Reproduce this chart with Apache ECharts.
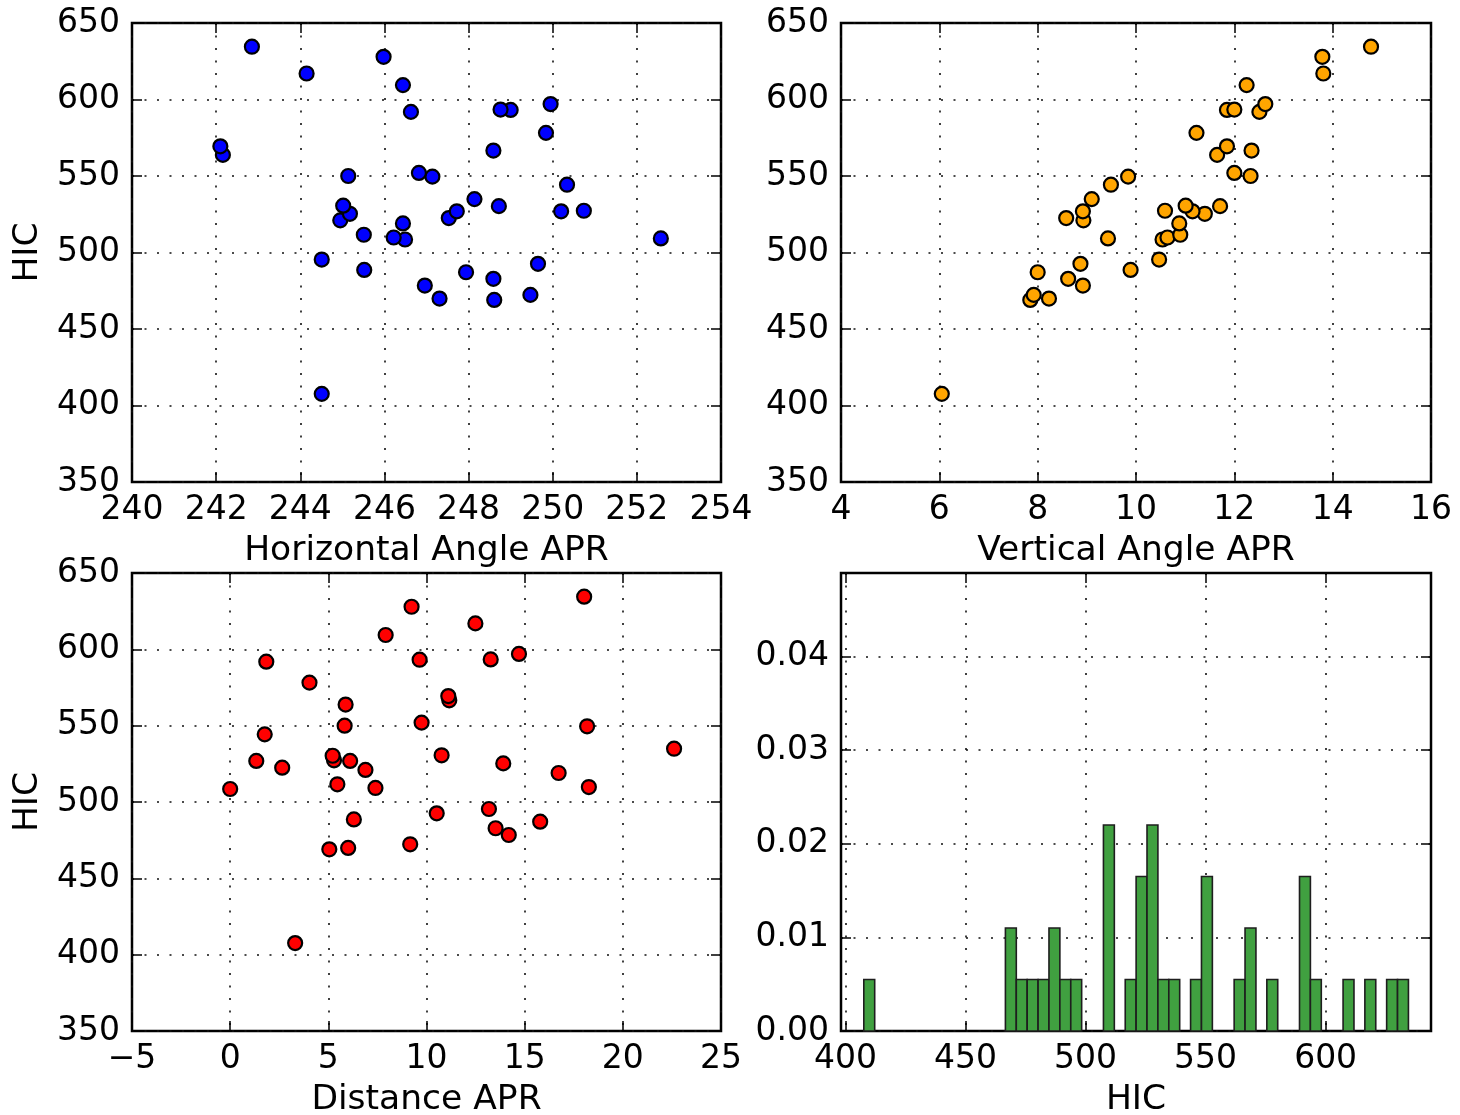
<!DOCTYPE html>
<html><head><meta charset="utf-8">
<script src="https://cdn.jsdelivr.net/npm/echarts@6/dist/echarts.min.js"></script>
<style>html,body{margin:0;padding:0;background:#fff}#c{width:1460px;height:1115px}</style>
</head><body><div id="c"></div>
<script>
// HIC values (sorted), with paired predictors
const hic = [407.6, 469.0, 469.9, 472.3, 478.4, 482.8, 487.1, 488.6, 492.6, 495.4,
  508.5, 509.2, 509.8, 511.6, 519.0, 521.0, 522.5, 525.3, 526.9, 526.9,
  527.3, 530.3, 530.6, 534.9, 544.3, 549.6, 550.0, 552.0, 563.8, 566.6,
  569.4, 578.2, 591.9, 593.2, 593.4, 597.0, 609.4, 617.0, 627.9, 634.5];
const hAngle = [244.51, 248.61, 247.31, 249.47, 246.96, 248.59, 247.94, 245.52, 249.65, 244.51,
  246.49, 252.57, 246.22, 245.51, 246.44, 244.95, 247.53, 245.18, 247.72, 250.20,
  250.74, 248.72, 245.02, 248.14, 250.34, 247.14, 245.14, 246.82, 242.16, 248.59,
  242.10, 249.84, 246.63, 249.00, 248.76, 249.95, 246.44, 244.15, 245.98, 242.85];
const vAngle = [6.05, 7.85, 8.23, 7.92, 8.92, 8.62, 8.00, 9.89, 8.87, 10.47,
  10.54, 9.43, 10.64, 10.90, 10.88, 8.93, 8.58, 11.40, 8.92, 11.15,
  10.59, 11.71, 11.01, 9.10, 9.49, 9.84, 12.33, 12.00, 11.65, 12.35,
  11.85, 11.23, 12.51, 11.85, 12.00, 12.63, 12.25, 13.81, 13.79, 14.78];
const distance = [3.31, 5.05, 6.01, 9.17, 14.19, 13.52, 15.79, 6.30, 10.52, 13.18,
  0.00, 7.40, 18.27, 5.46, 16.73, 6.89, 2.65, 13.91, 1.33, 6.11,
  5.29, 5.22, 10.77, 22.61, 1.76, 18.18, 5.83, 9.75, 5.88, 11.16,
  11.11, 4.04, 1.84, 9.65, 13.27, 14.71, 7.92, 12.49, 9.24, 18.03];

// Histogram of HIC (normed), 50 bins over data range
const histRange = [407.6, 634.5];
const histBins = 50;
const histDensity = [0.0055, 0, 0, 0, 0, 0, 0, 0, 0, 0,
  0, 0, 0, 0.011, 0.0055, 0.0055, 0.0055, 0.011, 0.0055, 0.0055,
  0, 0, 0.022, 0, 0.0055, 0.0165, 0.022, 0.0055, 0.0055, 0,
  0.0055, 0.0165, 0, 0, 0.0055, 0.011, 0, 0.0055, 0, 0,
  0.0165, 0.0055, 0, 0, 0.0055, 0, 0.0055, 0, 0.0055, 0.0055];

// tick labels
const histXTicks = [400, 450, 500, 550, 600];
const histYTicks = [0, 0.01, 0.02, 0.03, 0.04];

const FONT = 'DejaVu Sans';
const grids = [
  {left: 132, top: 23, width: 589, height: 459},
  {left: 841, top: 23, width: 590, height: 459},
  {left: 132, top: 573, width: 589, height: 458},
  {left: 841, top: 573, width: 590, height: 458}
].map(g => Object.assign(g, {show: true, containLabel: false, outerBoundsMode: 'none',
  borderColor: '#000', borderWidth: 2.5, backgroundColor: 'rgba(0,0,0,0)'}));

const tickStyle = () => ({show: true, inside: true, length: 10, lineStyle: {color: '#000', width: 1.5}});
const gridLine = {show: true, lineStyle: {color: '#111', width: 1.6, type: [2, 10.5]}};
const labelStyle = (fmt) => ({show: true, fontFamily: FONT, fontSize: 33, color: '#000', margin: 12, formatter: fmt, showMinLabel: true, showMaxLabel: true});
const nameStyle = {fontFamily: FONT, fontSize: 34.5, color: '#000'};
const minusFmt = v => (v < 0 ? '\u2212' + Math.abs(v) : String(v));

function mainAxis(dim, g, min, max, interval, name, fmt, custom) {
  const ax = {type: 'value', gridIndex: g, min, max, position: dim === 'x' ? 'bottom' : 'left',
    axisLine: {show: false, onZero: false}, axisTick: tickStyle(), splitLine: gridLine, axisLabel: labelStyle(fmt)};
  if (name) {
    ax.name = name; ax.nameLocation = 'middle'; ax.nameGap = dim === 'x' ? 52 : 86; ax.nameTextStyle = nameStyle;
  }
  if (custom) { ax.axisTick.customValues = custom; ax.axisLabel.customValues = custom; }
  else ax.interval = interval;
  return ax;
}
function sideAxis(dim, g, min, max, interval, custom) {
  const ax = {type: 'value', gridIndex: g, min, max, position: dim === 'x' ? 'top' : 'right',
    axisLine: {show: false, onZero: false}, axisTick: tickStyle(), splitLine: {show: false}, axisLabel: {show: false}};
  if (custom) ax.axisTick.customValues = custom; else ax.interval = interval;
  return ax;
}

const xAxes = [
  mainAxis('x', 0, 240, 254, 2, 'Horizontal Angle APR', minusFmt),
  mainAxis('x', 1, 4, 16, 2, 'Vertical Angle APR', minusFmt),
  mainAxis('x', 2, -5, 25, 5, 'Distance APR', minusFmt),
  mainAxis('x', 3, 398.1, 643.9, null, 'HIC', minusFmt, histXTicks),
  sideAxis('x', 0, 240, 254, 2),
  sideAxis('x', 1, 4, 16, 2),
  sideAxis('x', 2, -5, 25, 5),
  sideAxis('x', 3, 398.1, 643.9, null, histXTicks)
];
const yAxes = [
  mainAxis('y', 0, 350, 650, 50, 'HIC', minusFmt),
  mainAxis('y', 1, 350, 650, 50, null, minusFmt),
  mainAxis('y', 2, 350, 650, 50, 'HIC', minusFmt),
  mainAxis('y', 3, 0, 0.0489, null, null, v => Number(v).toFixed(2), histYTicks),
  sideAxis('y', 0, 350, 650, 50),
  sideAxis('y', 1, 350, 650, 50),
  sideAxis('y', 2, 350, 650, 50),
  sideAxis('y', 3, 0, 0.0489, null, histYTicks)
];

function scatter(g, xs, color) {
  return {type: 'scatter', xAxisIndex: g, yAxisIndex: g, symbol: 'circle', symbolSize: 14,
    itemStyle: {color, borderColor: '#000', borderWidth: 2.2, opacity: 1},
    emphasis: {disabled: true}, silent: true,
    data: xs.map((x, i) => [x, hic[i]])};
}

const binW = (histRange[1] - histRange[0]) / histBins;
const histData = histDensity.map((d, i) => [histRange[0] + i * binW, histRange[0] + (i + 1) * binW, d]);

const option = {
  animation: false,
  backgroundColor: '#fff',
  grid: grids,
  xAxis: xAxes,
  yAxis: yAxes,
  series: [
    scatter(0, hAngle, '#0000ff'),
    scatter(1, vAngle, '#ffa500'),
    scatter(2, distance, '#ff0000'),
    {type: 'custom', xAxisIndex: 3, yAxisIndex: 3, silent: true,
      encode: {x: [0, 1], y: 2},
      data: histData,
      renderItem: function (params, api) {
        const h = api.value(2);
        if (!(h > 0)) return null;
        const p0 = api.coord([api.value(0), 0]);
        const p1 = api.coord([api.value(1), h]);
        return {type: 'rect', shape: {x: p0[0], y: p1[1], width: p1[0] - p0[0], height: p0[1] - p1[1]},
          style: {fill: '#40a040', stroke: '#1e1e1e', lineWidth: 1.6}};
      }}
  ]
};
const chart = echarts.init(document.getElementById('c'), null, {renderer: 'canvas'});
chart.setOption(option);
</script></body></html>
